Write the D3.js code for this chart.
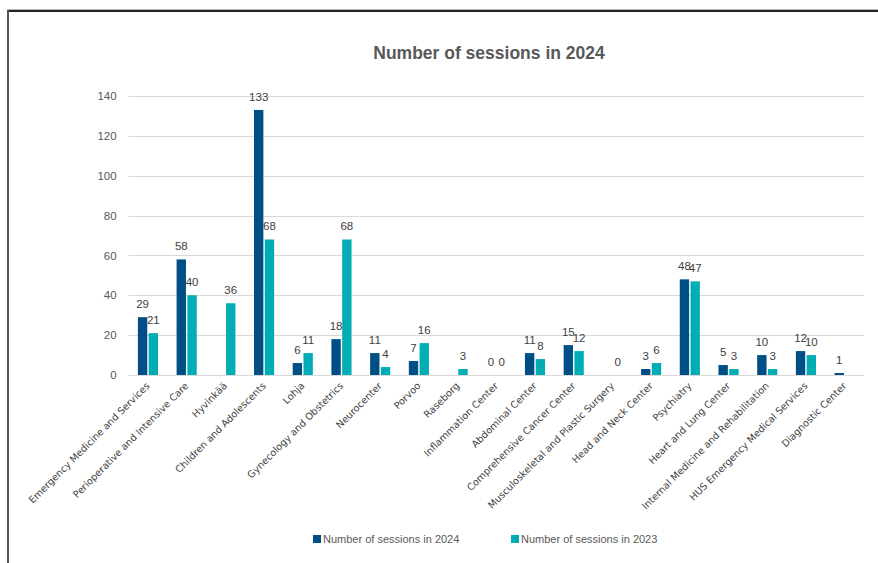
<!DOCTYPE html>
<html>
<head>
<meta charset="utf-8">
<script src="https://cdn.jsdelivr.net/npm/d3@7"></script>
<style>
  body { margin: 0; background: #fff; }
  svg { display: block; }
</style>
</head>
<body>
<div id="chart"></div>
<script>
// categories and the two series (null = no bar, no label)
var categories = [
    "Emergency Medicine and Services", "Perioperative and Intensive Care", "Hyvinkää",
    "Children and Adolescents", "Lohja", "Gynecology and Obstetrics", "Neurocenter",
    "Porvoo", "Raseborg", "Inflammation Center", "Abdominal Center",
    "Comprehensive Cancer Center", "Musculoskeletal and Plastic Surgery",
    "Head and Neck Center", "Psychiatry", "Heart and Lung Center",
    "Internal Medicine and Rehabilitation", "HUS Emergency Medical Services", "Diagnostic Center"
];
var sessions2024 = [29, 58, null, 133, 6, 18, 11, 7, null, 0, 11, 15, null, 3, 48, 5, 10, 12, 1];
var sessions2023 = [21, 40, 36, 68, 11, 68, 4, 16, 3, 0, 8, 12, 0, 6, 47, 3, 3, 10, null];
var seriesNames = ["Number of sessions in 2024", "Number of sessions in 2023"];
var yTicks = [0, 20, 40, 60, 80, 100, 120, 140];

var colors = ["#004e86", "#00adb5"];
var width = 878, height = 563;

var svg = d3.select("#chart").append("svg")
    .attr("width", width)
    .attr("height", height);

// chart frame (top and left edges are visible)
svg.append("line").attr("x1", 7).attr("x2", width).attr("y1", 9.5).attr("y2", 9.5)
    .attr("stroke", "#bbb").attr("stroke-width", 1);
svg.append("line").attr("x1", 7).attr("x2", width).attr("y1", 11).attr("y2", 11)
    .attr("stroke", "#222").attr("stroke-width", 2);
svg.append("line").attr("x1", 8).attr("x2", 8).attr("y1", 10).attr("y2", height)
    .attr("stroke", "#555").attr("stroke-width", 2);

var x0 = d3.scaleBand()
    .domain(categories)
    .range([128.6, 864])
    .paddingInner(0.48)
    .paddingOuter(0.24);

var x1 = d3.scaleBand()
    .domain([0, 1])
    .range([0, x0.bandwidth()])
    .paddingInner(0.13);

var y = d3.scaleLinear()
    .domain([0, 140])
    .range([375, 96]);

// gridlines
svg.append("g")
    .selectAll("line")
    .data(yTicks)
    .enter()
    .append("line")
    .attr("x1", 128.6)
    .attr("x2", 864)
    .attr("y1", d => Math.round(y(d)) + 0.5)
    .attr("y2", d => Math.round(y(d)) + 0.5)
    .attr("stroke", "#d9d9d9")
    .attr("stroke-width", 1);

// y axis labels
var yAxis = svg.append("g")
    .attr("transform", "translate(128.6,0)")
    .call(d3.axisLeft(y).tickValues(yTicks).tickSize(0).tickPadding(12));
yAxis.select(".domain").remove();
yAxis.selectAll("text")
    .attr("fill", "#595959")
    .style("font-family", "Liberation Sans, Arial, sans-serif")
    .style("font-size", "11.5px");

// bars
var rows = categories.map((c, i) => ({ cat: c, vals: [sessions2024[i], sessions2023[i]] }));

var groups = svg.append("g")
    .selectAll("g")
    .data(rows)
    .enter()
    .append("g")
    .attr("transform", d => "translate(" + x0(d.cat) + ",0)");

groups.selectAll("rect")
    .data(d => d.vals.map((v, s) => ({ v: v, s: s })).filter(e => e.v !== null))
    .enter()
    .append("rect")
    .attr("x", d => x1(d.s))
    .attr("width", x1.bandwidth())
    .attr("y", d => y(d.v))
    .attr("height", d => y(0) - y(d.v))
    .attr("fill", d => colors[d.s]);

// data labels
groups.selectAll("text")
    .data(d => d.vals.map((v, s) => ({ v: v, s: s })).filter(e => e.v !== null))
    .enter()
    .append("text")
    .attr("x", d => x1(d.s) + x1.bandwidth() / 2)
    .attr("y", d => y(d.v) - 9)
    .attr("text-anchor", "middle")
    .attr("fill", "#404040")
    .style("font-family", "Liberation Sans, Arial, sans-serif")
    .style("font-size", "11.5px")
    .text(d => d.v);

// category labels
svg.append("g")
    .selectAll("text")
    .data(categories)
    .enter()
    .append("text")
    .attr("transform", d => "translate(" + (x0(d) + x0.bandwidth() / 2) + ",384) rotate(-45)")
    .attr("text-anchor", "end")
    .attr("dy", "0.35em")
    .attr("fill", "#404040")
    .style("font-family", "DejaVu Sans, sans-serif")
    .style("font-size", "9.7px")
    .text(d => d);

// title
svg.append("text")
    .attr("x", 489)
    .attr("y", 59)
    .attr("text-anchor", "middle")
    .attr("fill", "#595959")
    .style("font-family", "Liberation Sans, Arial, sans-serif")
    .style("font-weight", "bold")
    .style("font-size", "17.5px")
    .text("Number of sessions in 2024");

// legend
var legendX = [313, 511];
var legend = svg.append("g")
    .selectAll("g")
    .data(seriesNames)
    .enter()
    .append("g")
    .attr("transform", (d, i) => "translate(" + legendX[i] + ",535)");
legend.append("rect")
    .attr("width", 8).attr("height", 8)
    .attr("fill", (d, i) => colors[i]);
legend.append("text")
    .attr("x", 10)
    .attr("y", 4)
    .attr("dy", "0.35em")
    .attr("fill", "#595959")
    .style("font-family", "Liberation Sans, Arial, sans-serif")
    .style("font-size", "11px")
    .text(d => d);
</script>
</body>
</html>
